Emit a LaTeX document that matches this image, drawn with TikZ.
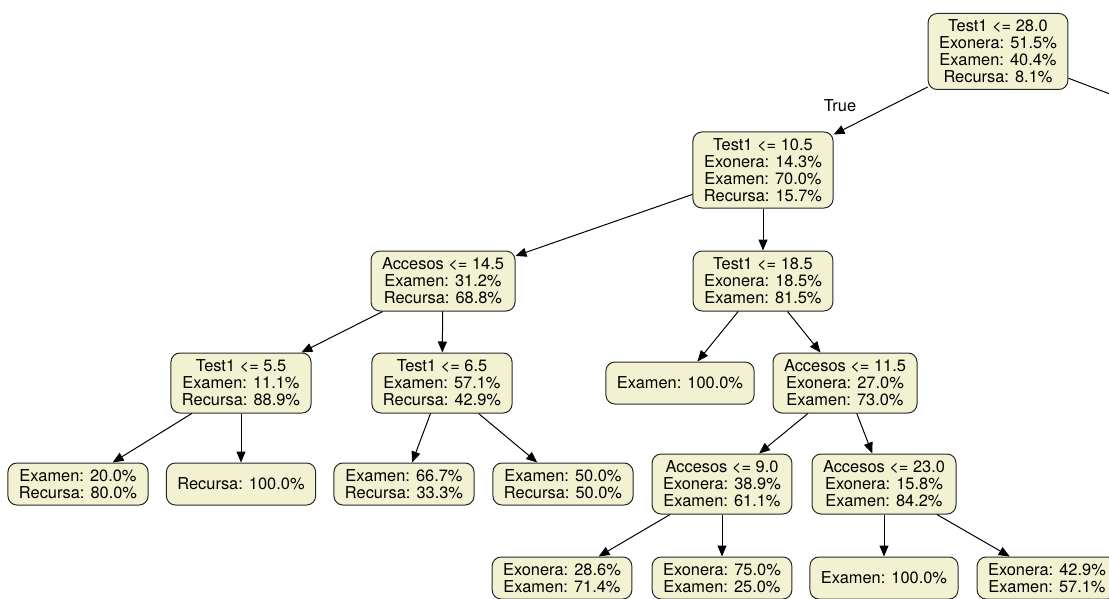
\documentclass[tikz,border=0pt]{standalone}
\usepackage{fontspec}
\setmainfont{TeX Gyre Heros}
\usetikzlibrary{arrows.meta}
\definecolor{nodefill}{RGB}{242,241,210}
\definecolor{nodeline}{RGB}{40,40,40}
\newcommand\treefont{\fontsize{16.4}{17}\selectfont}
\tikzset{
  tree/.style={draw=nodeline, fill=nodefill, rounded corners=9pt, line width=1pt,
    align=center, inner xsep=11pt, inner ysep=0pt, font=\treefont},
  h2/.style={tree, minimum height=42pt},
  h3/.style={tree, minimum height=60pt},
  h4/.style={tree, minimum height=76pt},
  link/.style={-{Triangle[length=11pt,width=9pt]}, line width=1pt, draw=black}
}
\begin{document}
\begin{tikzpicture}[x=1pt,y=-1pt]
\useasboundingbox (0,0) rectangle (1109,599);
\clip (0,0) rectangle (1109,599);

% level 1
\node[h4] (root) at (998,51.5) {Test1 <= 28.0\\Exonera: 51.5\%\\Examen: 40.4\%\\Recursa: 8.1\%};
\coordinate (fchild) at (1310,170);

% level 2
\node[h4] (n105) at (763,170) {Test1 <= 10.5\\Exonera: 14.3\%\\Examen: 70.0\%\\Recursa: 15.7\%};

% level 3
\node[h3] (a145) at (443,281) {Accesos <= 14.5\\Examen: 31.2\%\\Recursa: 68.8\%};
\node[h3] (t185) at (763,281) {Test1 <= 18.5\\Exonera: 18.5\%\\Examen: 81.5\%};

% level 4
\node[h3] (t55) at (241,383) {Test1 <= 5.5\\Examen: 11.1\%\\Recursa: 88.9\%};
\node[h3] (t65) at (442,383) {Test1 <= 6.5\\Examen: 57.1\%\\Recursa: 42.9\%};
\node[h2] (e100a) at (680,383) {Examen: 100.0\%};
\node[h3] (a115) at (845,383) {Accesos <= 11.5\\Exonera: 27.0\%\\Examen: 73.0\%};

% level 5
\node[h2] (l20) at (78,484) {Examen: 20.0\%\\Recursa: 80.0\%};
\node[h2] (r100) at (241,484) {Recursa: 100.0\%};
\node[h2] (l667) at (404,484) {Examen: 66.7\%\\Recursa: 33.3\%};
\node[h2] (l50) at (563,484) {Examen: 50.0\%\\Recursa: 50.0\%};
\node[h3] (a90) at (722,484) {Accesos <= 9.0\\Exonera: 38.9\%\\Examen: 61.1\%};
\node[h3] (a230) at (884,484) {Accesos <= 23.0\\Exonera: 15.8\%\\Examen: 84.2\%};

% level 6
\node[h2] (l286) at (562,578) {Exonera: 28.6\%\\Examen: 71.4\%};
\node[h2] (l750) at (722,578) {Exonera: 75.0\%\\Examen: 25.0\%};
\node[h2] (e100b) at (884,578) {Examen: 100.0\%};
\node[h2] (l429) at (1047,578) {Exonera: 42.9\%\\Examen: 57.1\%};

% branch label
\node[font=\treefont, inner sep=0pt] (truelbl) at (840,106) {True};

% connectors
\draw[link] (root) -- (n105);
\draw[link] (root) -- (fchild);
\draw[link] (n105) -- (a145);
\draw[link] (n105) -- (t185);
\draw[link] (a145) -- (t55);
\draw[link] (a145) -- (t65);
\draw[link] (t185) -- (e100a);
\draw[link] (t185) -- (a115);
\draw[link] (t55) -- (l20);
\draw[link] (t55) -- (r100);
\draw[link] (t65) -- (l667);
\draw[link] (t65) -- (l50);
\draw[link] (a115) -- (a90);
\draw[link] (a115) -- (a230);
\draw[link] (a90) -- (l286);
\draw[link] (a90) -- (l750);
\draw[link] (a230) -- (e100b);
\draw[link] (a230) -- (l429);
\end{tikzpicture}
\end{document}
